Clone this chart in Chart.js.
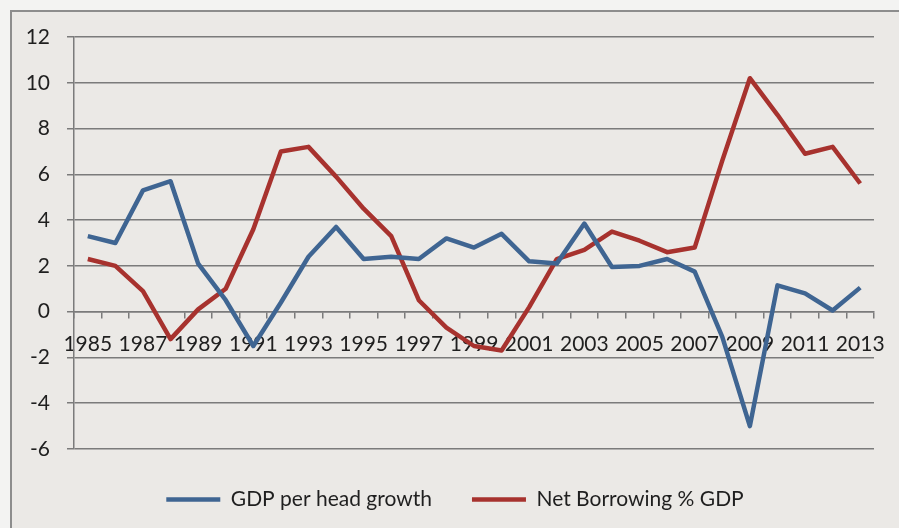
<!DOCTYPE html>
<html>
<head>
<meta charset="utf-8">
<title>GDP per head growth and net borrowing</title>
<script src="https://cdn.jsdelivr.net/npm/chart.js@4.4.1/dist/chart.umd.min.js"></script>
<style>
  html, body { margin: 0; padding: 0; background: #f3f3f2; }
  #wrap { width: 899px; height: 528px; }
</style>
</head>
<body>
<div id="wrap"><canvas id="gdpChart" width="899" height="528"></canvas></div>
<script>
const years = ['1985', '1986', '1987', '1988', '1989', '1990', '1991', '1992', '1993', '1994',
  '1995', '1996', '1997', '1998', '1999', '2000', '2001', '2002', '2003', '2004',
  '2005', '2006', '2007', '2008', '2009', '2010', '2011', '2012', '2013'];

const gdpGrowth = [3.3, 3.0, 5.3, 5.7, 2.1, 0.5, -1.5, 0.4, 2.4, 3.7,
  2.3, 2.4, 2.3, 3.2, 2.8, 3.4, 2.2, 2.1, 3.85, 1.95,
  2.0, 2.3, 1.75, -1.1, -5.0, 1.15, 0.8, 0.05, 1.05];

const netBorrowing = [2.3, 2.0, 0.9, -1.2, 0.1, 1.0, 3.6, 7.0, 7.2, 5.9,
  4.5, 3.3, 0.5, -0.7, -1.5, -1.7, 0.2, 2.3, 2.7, 3.5,
  3.1, 2.6, 2.8, 6.6, 10.2, 8.6, 6.9, 7.2, 5.6];

const yMin = -6;
const yMax = 12;
const yStep = 2;

const blue = '#3f6592';
const red = '#a7322e';
const gridGrey = '#7b7b7b';
const textColour = '#1f1f1f';

// panel background with the thin frame on the top and left edges
const framePlugin = {
  id: 'frame',
  beforeDraw(chart) {
    const c = chart.ctx;
    c.save();
    c.fillStyle = '#f3f3f2';
    c.fillRect(0, 0, chart.width, chart.height);
    c.fillStyle = '#ebe9e6';
    c.fillRect(11, 11, chart.width - 11, chart.height - 11);
    c.strokeStyle = '#8d8d8d';
    c.lineWidth = 2;
    c.beginPath();
    c.moveTo(11, chart.height);
    c.lineTo(11, 11);
    c.lineTo(chart.width, 11);
    c.stroke();
    c.restore();
  }
};

// the legend sits a little right of the canvas centre, under the plot
const legendShift = {
  id: 'legendShift',
  afterLayout(chart) {
    chart.legend.left += 7;
    chart.legend.right += 7;
  }
};

new Chart(document.getElementById('gdpChart'), {
  type: 'line',
  data: {
    labels: years,
    datasets: [
      {
        label: 'GDP per head growth',
        data: gdpGrowth,
        borderColor: blue,
        backgroundColor: blue,
        borderWidth: 4.5,
        pointRadius: 0,
        tension: 0,
        borderJoinStyle: 'round',
        fill: false
      },
      {
        label: 'Net Borrowing % GDP',
        data: netBorrowing,
        borderColor: red,
        backgroundColor: red,
        borderWidth: 4.5,
        pointRadius: 0,
        tension: 0,
        borderJoinStyle: 'round',
        fill: false
      }
    ]
  },
  options: {
    responsive: false,
    animation: false,
    layout: {
      padding: { left: 22, right: 25, top: 37, bottom: 8 }
    },
    scales: {
      x: {
        position: { y: 0 },
        offset: true,
        grid: {
          offset: true,
          drawOnChartArea: false,
          drawTicks: true,
          tickLength: 6,
          color: gridGrey,
          lineWidth: 1.5
        },
        border: { display: true, color: gridGrey, width: 1.5 },
        ticks: {
          autoSkip: false,
          maxRotation: 0,
          minRotation: 0,
          padding: 14,
          color: textColour,
          font: { family: 'Lato', size: 21 },
          callback: function (value, index) {
            return index % 2 === 0 ? this.getLabelForValue(value) : '';
          }
        }
      },
      y: {
        min: yMin,
        max: yMax,
        afterFit(scale) {
          scale.width = 52;
        },
        grid: {
          color: gridGrey,
          lineWidth: 1.5,
          drawTicks: true,
          tickLength: 7
        },
        border: { display: true, color: gridGrey, width: 1.5 },
        ticks: {
          stepSize: yStep,
          padding: 17,
          color: textColour,
          font: { family: 'Lato', size: 21 }
        }
      }
    },
    plugins: {
      legend: {
        position: 'bottom',
        labels: {
          usePointStyle: true,
          pointStyle: 'line',
          pointStyleWidth: 54,
          padding: 40,
          color: textColour,
          font: { family: 'Lato', size: 21 }
        }
      },
      tooltip: { enabled: false }
    }
  },
  plugins: [framePlugin, legendShift]
});
</script>
</body>
</html>
